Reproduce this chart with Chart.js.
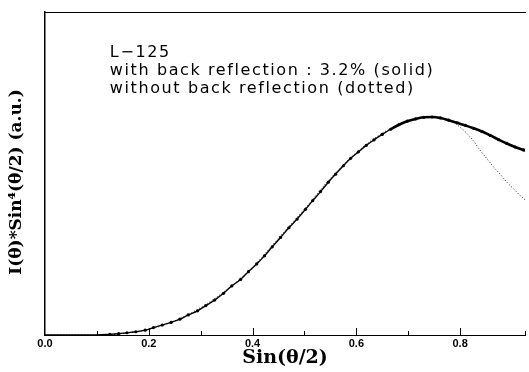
<!DOCTYPE html>
<html>
<head>
<meta charset="utf-8">
<script src="https://cdn.jsdelivr.net/npm/chart.js@4.4.0/dist/chart.umd.min.js"></script>
<style>
html,body{margin:0;padding:0;background:#fff;}
#wrap{width:529px;height:372px;position:relative;}
</style>
</head>
<body>
<div id="wrap"><canvas id="c" width="529" height="372"></canvas></div>
<script>
// Solid curve (with back reflection 3.2%), with markers
const xSolid = [0.00, 0.05, 0.10, 0.125, 0.142, 0.158, 0.175, 0.193, 0.209, 0.226, 0.243, 0.260, 0.276, 0.294, 0.310, 0.327, 0.344, 0.360, 0.377, 0.392, 0.408, 0.423, 0.438, 0.454, 0.470, 0.486, 0.502, 0.516, 0.531, 0.546, 0.560, 0.575, 0.589, 0.604, 0.619, 0.634, 0.650, 0.666, 0.682, 0.698, 0.714, 0.730, 0.746, 0.762, 0.778, 0.794, 0.810, 0.826, 0.842, 0.858, 0.874, 0.890, 0.906, 0.922, 0.935];
const ySolid = [0, 0, 0.000, 0.002, 0.004, 0.007, 0.010, 0.015, 0.023, 0.031, 0.039, 0.049, 0.062, 0.075, 0.091, 0.108, 0.129, 0.152, 0.172, 0.196, 0.220, 0.245, 0.273, 0.302, 0.332, 0.359, 0.389, 0.416, 0.444, 0.473, 0.498, 0.524, 0.547, 0.567, 0.587, 0.604, 0.621, 0.637, 0.651, 0.662, 0.669, 0.674, 0.675, 0.672, 0.665, 0.657, 0.649, 0.640, 0.630, 0.618, 0.605, 0.593, 0.582, 0.573, 0.566];
// Dotted curve (without back reflection)
const xDotted = [0.00, 0.10, 0.15, 0.20, 0.25, 0.30, 0.35, 0.40, 0.45, 0.50, 0.55, 0.60, 0.65, 0.70, 0.74, 0.77, 0.787, 0.800, 0.813, 0.826, 0.838, 0.851, 0.864, 0.877, 0.889, 0.902, 0.915, 0.935];
const yDotted = [0, 0, 0.005, 0.017, 0.044, 0.085, 0.140, 0.210, 0.300, 0.390, 0.485, 0.565, 0.625, 0.664, 0.675, 0.670, 0.660, 0.643, 0.624, 0.600, 0.573, 0.547, 0.521, 0.498, 0.475, 0.454, 0.433, 0.405];
// Axis
const xMin = 0, xMax = 0.925, xStep = 0.1;
const xLabelValues = [0.0, 0.2, 0.4, 0.6, 0.8];
const yMin = 0, yMax = 1;
const annotationLines = ["L\u2212125", "with back reflection : 3.2% (solid)", "without back reflection (dotted)"];
const xTitle = "Sin(\u03b8/2)";
const yTitle = "I(\u03b8)*Sin\u2074(\u03b8/2) (a.u.)\u2003";

const toPts = (xs, ys) => xs.map((x, i) => ({x: x, y: ys[i]}));

const innerTicks = {
  id: 'innerTicks',
  afterDatasetsDraw(chart) {
    const ctx = chart.ctx, xs = chart.scales.x, ca = chart.chartArea;
    ctx.save();
    ctx.strokeStyle = '#000';
    ctx.lineWidth = 1;
    xs.ticks.forEach(t => {
      if (Math.abs(t.value) < 1e-9) return;
      const major = xLabelValues.some(v => Math.abs(v - t.value) < 1e-6);
      const px = Math.round(xs.getPixelForValue(t.value)) + 0.5;
      ctx.beginPath();
      ctx.moveTo(px, ca.bottom + (major ? 1 : 0));
      ctx.lineTo(px, ca.bottom - (major ? 7 : 4));
      ctx.stroke();
    });
    ctx.restore();
  }
};

const annot = {
  id: 'annot',
  afterDatasetsDraw(chart) {
    const ctx = chart.ctx, xs = chart.scales.x, ys = chart.scales.y;
    ctx.save();
    ctx.fillStyle = '#000';
    ctx.font = '16px "DejaVu Sans"';
    ctx.textBaseline = 'middle';
    try { ctx.letterSpacing = '1.6px'; } catch (e) {}
    const x0 = xs.getPixelForValue(0.125);
    const yTop = ys.getPixelForValue(0.875);
    annotationLines.forEach((s, i) => ctx.fillText(s, x0, yTop + i * 18));
    ctx.restore();
  }
};

new Chart(document.getElementById('c'), {
  type: 'line',
  data: {
    datasets: [
      {
        label: 'solid',
        data: toPts(xSolid, ySolid),
        borderColor: '#000',
        backgroundColor: '#000',
        borderWidth: 1.4,
        segment: { borderWidth: (c) => (c.p0.parsed.x > 0.66 ? 2.6 : 1.4) },
        pointRadius: (c) => c.dataIndex < 3 ? 0 : 1.6,
        pointBorderWidth: 0,
        cubicInterpolationMode: 'monotone',
        fill: false
      },
      {
        label: 'dotted',
        data: toPts(xDotted, yDotted),
        borderColor: '#222',
        borderWidth: 1,
        borderDash: [1, 2],
        pointRadius: 0,
        cubicInterpolationMode: 'monotone',
        fill: false
      }
    ]
  },
  options: {
    responsive: false,
    animation: false,
    events: [],
    layout: { padding: { left: 6, top: 12, right: 0, bottom: 0 } },
    plugins: { legend: { display: false }, tooltip: { enabled: false } },
    scales: {
      x: {
        type: 'linear', position: 'bottom', min: xMin, max: xMax,
        grid: { display: false, drawTicks: false },
        border: { display: true, color: '#000', width: 1 },
        ticks: {
          stepSize: xStep, padding: 2, color: '#000',
          font: { family: '"Liberation Sans"', size: 11, weight: 'bold' },
          autoSkip: false, maxRotation: 0,
          callback: (v) => xLabelValues.some(l => Math.abs(l - v) < 1e-6) ? Number(v).toFixed(1) : ''
        },
        title: {
          display: true, text: xTitle, color: '#000',
          font: { family: '"DejaVu Serif"', size: 19, weight: 'bold' },
          padding: { top: 0, bottom: 3 }
        },
        afterFit: (s) => { s.height = 37; }
      },
      x2: {
        type: 'linear', position: 'top', min: xMin, max: xMax,
        grid: { display: false, drawTicks: false },
        border: { display: true, color: '#000', width: 1 },
        ticks: { display: false },
        afterFit: (s) => { s.height = 0; }
      },
      y: {
        min: yMin, max: yMax,
        grid: { display: false, drawTicks: false },
        border: { display: true, color: '#000', width: 1.5 },
        ticks: { display: false },
        title: {
          display: true, text: yTitle, color: '#000',
          font: { family: '"DejaVu Serif"', size: 17, weight: 'bold' },
          padding: { top: 0, bottom: 0 }
        },
        afterFit: (s) => { s.width = 39; }
      }
    }
  },
  plugins: [innerTicks, annot]
});
</script>
</body>
</html>
